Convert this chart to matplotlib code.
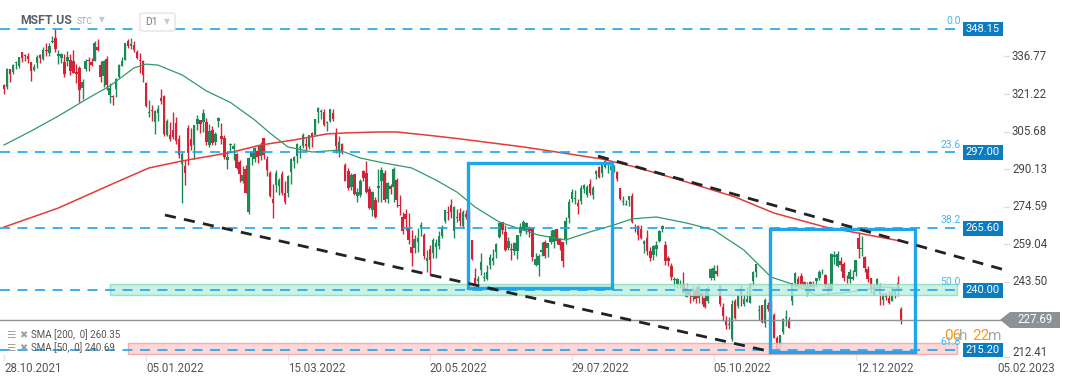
import numpy as np
import matplotlib
matplotlib.use('Agg')
import matplotlib.pyplot as plt
from matplotlib.patches import Rectangle, Polygon, FancyBboxPatch

plt.rcParams['font.family'] = ['Roboto', 'DejaVu Sans']

# ---- daily candles MSFT.US, 28.10.2021 .. 04.01.2023 (one row per month) ----
opens = [
    324.9, 324.1,
    331.4, 330.3, 333.9, 332.9, 338.5, 337.3, 337.1, 334.6, 331.3, 333.9, 337.5, 335.7, 339.5, 338.2, 342.6, 344.6, 337.1, 336.3, 334.4, 334.9, 335.3,
    335.1, 330.3, 331.9, 323.9, 331.6, 335.3, 334.4, 334.9, 340.7, 333.2, 328.6, 335.7, 320.9, 320.1, 323.3, 328.3, 332.8, 335.5, 343.1, 341.3, 341.5, 338.5,
    335.4, 334.8, 325.9, 313.2, 314.2, 309.5, 313.4, 319.7, 320.5, 304.3, 304.1, 306.3, 309.1, 302.7, 292.2, 291.5, 307.0, 302.7, 300.2, 308.9,
    310.4, 309.6, 309.5, 300.2, 306.2, 301.3, 309.9, 304.0, 303.2, 293.8, 300.0, 298.4, 296.4, 293.1, 285.0, 290.2, 272.5, 295.1, 294.3,
    297.7, 295.4, 302.9, 294.3, 288.5, 277.8, 283.4, 283.0, 287.9, 280.3, 280.4, 289.1, 293.3, 295.4, 298.9, 299.8, 300.5, 299.1, 305.2, 304.3, 313.9, 313.8, 313.9,
    309.4, 310.1, 313.3, 305.2, 296.7, 300.4, 291.8, 289.2, 282.7, 288.1, 278.9, 279.4, 289.4, 288.6, 281.7, 273.3, 277.5, 282.1, 285.2, 288.6,
    277.7, 283.0, 282.6, 285.5, 274.8, 270.1, 271.7, 265.7, 257.7, 257.4, 259.9, 266.1, 263.0, 251.9, 257.2, 255.5, 257.9, 258.1, 262.3, 268.5, 272.5,
    275.2, 264.4, 270.3, 272.1, 266.6, 271.7, 267.8, 260.6, 245.1, 243.9, 248.3, 245.0, 244.7, 250.3, 251.9, 255.6, 261.8, 268.2, 263.9, 257.6, 257.1,
    256.4, 256.2, 263.8, 265.1, 264.8, 265.7, 265.9, 250.2, 250.6, 255.7, 259.8, 257.6, 259.9, 259.8, 265.2, 261.0, 259.9, 261.2, 269.8, 277.7,
    277.8, 276.0, 276.8, 281.9, 279.2, 284.1, 279.6, 288.2, 290.9, 288.5, 291.0, 291.9, 289.7, 290.2, 288.9, 282.1, 276.4, 275.4, 277.3, 279.1, 265.9, 266.7, 265.4,
    258.9, 261.7, 256.2, 254.7, 257.0, 260.4, 265.5, 258.8, 253.5, 249.8, 244.3, 242.5, 242.1, 242.0, 237.3, 239.5, 237.1, 239.9, 236.8, 238.9, 236.7,
    235.4, 245.1, 245.0, 247.9, 241.8, 233.1, 227.6, 225.4, 219.9, 235.5, 233.3, 241.0, 234.4, 235.1, 234.7, 243.8, 247.3, 231.2, 233.8, 226.2, 233.8,
    234.6, 229.5, 220.1, 217.6, 222.6, 228.6, 227.4, 235.4, 242.9, 244.7, 245.7, 243.5, 237.8, 243.5, 241.4, 243.6, 245.1, 247.3, 246.1, 241.4, 240.6,
    253.9, 249.8, 252.0, 250.8, 244.8, 244.8, 244.7, 247.4, 261.7, 257.1, 253.7, 248.6, 244.9, 238.0, 241.7, 242.3, 236.1, 238.7, 236.9, 235.7, 238.2,
    243.1, 232.3,
]
highs = [
    325.4, 331.9,
    331.5, 333.5, 334.9, 336.5, 338.8, 337.6, 338.0, 334.6, 333.7, 337.2, 337.9, 340.7, 342.2, 342.5, 345.1, 348.0, 339.5, 338.2, 337.9, 339.0, 337.8,
    339.3, 333.5, 332.7, 327.4, 335.8, 336.5, 336.2, 343.0, 343.8, 335.0, 335.2, 336.8, 325.9, 320.9, 327.7, 333.6, 336.4, 342.5, 343.8, 344.3, 343.1, 339.4,
    338.0, 335.2, 326.1, 318.7, 316.5, 314.7, 316.6, 323.4, 320.9, 310.8, 309.8, 313.9, 311.7, 304.1, 297.1, 294.0, 308.5, 307.3, 308.5, 312.4,
    310.6, 315.1, 311.2, 308.8, 307.8, 305.6, 311.9, 309.1, 304.3, 297.8, 300.8, 300.9, 296.8, 293.9, 291.5, 291.7, 295.2, 297.6, 299.1,
    299.9, 301.5, 303.1, 295.7, 289.5, 283.9, 289.6, 286.6, 289.5, 285.4, 287.8, 294.6, 295.6, 301.0, 300.1, 305.0, 303.2, 304.2, 305.5, 310.8, 315.8, 315.0, 315.1,
    310.1, 315.1, 314.9, 307.0, 303.7, 301.1, 292.6, 290.7, 288.6, 288.3, 282.5, 286.2, 289.7, 293.3, 283.2, 281.1, 278.4, 290.0, 290.9, 289.9,
    284.9, 284.1, 290.9, 286.4, 279.3, 272.4, 273.8, 272.0, 264.8, 263.0, 265.8, 268.3, 263.6, 256.8, 258.5, 261.5, 261.3, 264.6, 267.1, 273.3, 274.8,
    277.7, 274.7, 273.5, 274.0, 273.1, 273.0, 272.7, 260.6, 249.0, 245.7, 255.3, 247.4, 250.5, 254.8, 257.2, 259.4, 267.9, 268.3, 266.9, 261.9, 259.5,
    259.8, 262.9, 267.9, 269.1, 268.1, 266.5, 265.9, 255.2, 255.1, 260.0, 260.8, 259.7, 264.9, 264.9, 265.3, 261.5, 259.9, 270.1, 277.8, 282.0,
    281.3, 277.9, 283.5, 283.8, 283.6, 285.9, 283.1, 289.8, 291.2, 291.9, 294.2, 293.0, 293.4, 291.9, 289.3, 282.5, 278.9, 277.2, 279.0, 280.3, 267.4, 267.1, 267.0,
    260.9, 264.7, 257.8, 258.8, 260.4, 265.0, 267.0, 260.4, 254.2, 251.4, 245.3, 245.0, 244.1, 247.7, 242.8, 240.2, 241.5, 241.7, 242.3, 239.9, 240.5,
    241.6, 249.0, 250.4, 250.3, 242.0, 234.6, 229.1, 229.0, 236.0, 236.2, 238.2, 242.0, 238.6, 241.3, 243.0, 248.0, 251.0, 233.7, 233.9, 236.6, 234.9,
    235.7, 230.6, 221.0, 221.6, 228.6, 231.6, 228.7, 243.0, 247.6, 245.9, 247.0, 243.8, 243.3, 243.7, 243.6, 245.1, 248.3, 248.7, 246.7, 242.8, 255.3,
    256.1, 256.1, 253.8, 251.8, 246.2, 248.7, 248.3, 252.5, 263.9, 262.6, 254.2, 249.8, 245.2, 242.6, 245.2, 242.8, 238.9, 238.9, 239.7, 241.9, 239.9,
    245.8, 232.9,
]
lows = [
    321.4, 323.5,
    326.4, 329.4, 331.5, 332.2, 334.4, 334.8, 333.9, 326.5, 330.8, 332.2, 334.0, 335.5, 337.1, 337.0, 342.2, 338.6, 333.5, 333.9, 328.1, 332.7, 328.9,
    329.9, 325.8, 318.0, 319.2, 330.8, 330.6, 332.7, 334.8, 339.1, 326.4, 324.1, 323.0, 317.5, 316.6, 319.8, 328.0, 332.7, 335.4, 340.3, 339.7, 338.8, 335.9,
    329.8, 326.1, 315.9, 311.5, 310.1, 304.7, 309.9, 317.1, 304.0, 303.8, 301.7, 302.7, 300.4, 294.8, 276.1, 283.5, 292.0, 297.9, 294.4, 306.4,
    305.1, 305.6, 299.9, 299.2, 299.9, 299.9, 307.4, 300.7, 294.2, 290.0, 297.0, 293.7, 290.0, 284.9, 284.5, 280.1, 271.5, 291.7, 293.0,
    292.5, 293.7, 294.1, 287.2, 278.5, 270.0, 280.8, 279.5, 279.4, 275.8, 278.7, 283.9, 290.4, 292.7, 294.9, 298.8, 297.7, 298.3, 299.3, 304.3, 309.1, 310.8, 307.9,
    305.8, 309.7, 309.9, 296.7, 295.1, 296.2, 285.2, 281.4, 281.3, 279.3, 276.3, 278.4, 285.4, 280.1, 273.4, 270.8, 270.0, 276.6, 276.7, 276.5,
    276.2, 280.0, 276.7, 274.3, 271.3, 263.3, 265.1, 258.9, 250.0, 255.4, 255.8, 262.5, 252.8, 247.3, 246.4, 253.4, 253.5, 257.1, 261.4, 267.6, 268.9,
    270.0, 261.6, 268.4, 266.5, 265.9, 269.6, 264.6, 252.5, 241.5, 241.5, 246.4, 243.6, 244.0, 248.9, 250.4, 253.3, 261.7, 263.3, 256.3, 256.6, 252.6,
    254.6, 252.7, 262.4, 265.0, 263.3, 262.2, 252.0, 250.0, 245.9, 254.2, 253.1, 253.6, 258.9, 257.3, 259.1, 256.8, 249.6, 258.9, 267.9, 276.6,
    275.8, 271.4, 275.6, 280.2, 278.7, 279.3, 277.6, 286.0, 286.5, 286.9, 290.4, 288.6, 289.4, 289.1, 285.2, 277.2, 275.4, 275.1, 274.7, 267.9, 263.9, 260.7, 261.3,
    255.4, 254.5, 251.9, 252.3, 254.2, 259.8, 263.9, 250.5, 249.9, 244.0, 241.1, 240.8, 241.0, 238.9, 237.0, 234.7, 235.7, 234.5, 234.7, 234.4, 232.7,
    234.7, 244.2, 244.0, 246.0, 233.4, 227.3, 224.1, 224.1, 219.1, 228.0, 232.6, 233.6, 233.4, 235.0, 234.5, 241.7, 245.4, 227.5, 226.3, 224.7, 231.4,
    226.8, 220.0, 213.4, 213.4, 222.0, 225.0, 224.3, 233.8, 240.7, 240.4, 240.3, 240.4, 237.7, 239.4, 240.4, 241.4, 244.3, 246.7, 240.8, 238.2, 240.6,
    250.9, 249.7, 248.1, 243.8, 243.0, 243.1, 244.2, 246.0, 253.5, 254.3, 247.3, 243.4, 238.7, 238.0, 240.6, 233.9, 233.9, 235.8, 234.2, 235.6, 236.7,
    237.4, 225.8,
]
closes = [
    323.4, 331.6,
    329.4, 333.1, 334.0, 336.4, 336.1, 337.0, 335.9, 330.8, 332.4, 336.7, 336.1, 339.5, 339.1, 341.3, 343.1, 339.8, 337.7, 337.9, 329.7, 336.6, 330.6,
    330.1, 329.5, 323.0, 326.2, 334.9, 335.0, 333.1, 342.5, 339.4, 328.3, 334.7, 324.9, 323.8, 319.9, 327.3, 333.2, 334.7, 342.5, 341.3, 342.0, 339.3, 336.3,
    334.8, 329.0, 316.4, 313.9, 314.0, 314.3, 315.0, 318.3, 304.8, 310.2, 302.7, 303.3, 301.6, 296.0, 296.4, 288.5, 296.7, 299.8, 308.3, 311.0,
    308.8, 313.5, 301.3, 305.9, 301.0, 304.6, 311.2, 302.4, 295.0, 295.0, 300.5, 299.5, 290.7, 287.9, 287.7, 280.3, 294.6, 297.3, 298.8,
    295.0, 300.2, 295.9, 289.9, 278.9, 275.9, 288.5, 285.6, 280.1, 276.4, 287.2, 294.4, 295.2, 300.4, 299.2, 304.1, 299.5, 304.1, 303.7, 310.7, 315.4, 313.9, 308.3,
    309.4, 315.0, 310.9, 299.5, 301.4, 297.0, 285.3, 282.1, 287.6, 279.8, 280.5, 285.3, 286.4, 280.8, 274.0, 280.7, 270.2, 283.2, 289.6, 277.5,
    284.5, 281.8, 290.0, 277.4, 274.7, 264.6, 269.5, 260.6, 255.4, 261.1, 261.5, 266.8, 254.1, 253.1, 252.6, 260.7, 259.6, 262.5, 265.9, 273.2, 271.9,
    272.4, 274.6, 270.0, 268.8, 272.5, 270.4, 264.8, 253.0, 242.3, 244.5, 251.8, 245.0, 247.7, 253.7, 253.1, 258.9, 267.7, 264.9, 256.5, 260.3, 256.8,
    259.6, 262.9, 266.2, 268.4, 267.7, 264.5, 253.7, 252.7, 254.1, 256.7, 254.3, 259.5, 262.3, 264.8, 260.4, 258.8, 251.9, 268.7, 276.4, 280.7,
    278.0, 274.8, 282.5, 283.7, 282.9, 280.3, 282.3, 289.2, 287.0, 291.9, 293.5, 292.7, 291.3, 290.2, 286.2, 277.8, 276.4, 275.8, 278.9, 268.1, 265.2, 263.0, 261.5,
    260.4, 256.1, 253.3, 258.1, 258.5, 264.5, 266.7, 252.0, 252.2, 245.4, 244.7, 244.5, 242.5, 239.0, 241.0, 237.9, 237.5, 236.4, 241.1, 237.5, 232.9,
    240.7, 248.9, 249.2, 246.8, 234.2, 229.3, 225.4, 225.8, 234.2, 228.6, 237.5, 238.5, 236.5, 236.2, 242.1, 247.3, 250.7, 231.3, 226.8, 235.9, 232.1,
    228.2, 220.1, 214.3, 221.4, 227.9, 228.9, 224.5, 243.0, 247.1, 241.6, 242.0, 241.7, 241.7, 241.2, 242.1, 245.0, 247.6, 247.5, 241.8, 240.3, 255.1,
    254.7, 255.0, 250.2, 245.1, 244.4, 247.4, 245.4, 252.5, 256.9, 257.2, 249.0, 244.7, 240.5, 241.8, 244.4, 238.2, 238.7, 237.0, 234.5, 241.0, 239.8,
    239.6, 227.7,
]

# moving averages (candle index, value)
sma50_idx = [0, 9, 18, 28, 35, 43, 47, 51, 59, 67, 75, 83, 88, 94, 102, 111, 118, 126, 135, 143, 150,
             156, 164, 177, 186, 194, 202, 208, 216, 226, 235, 245, 254, 262, 269, 280, 291, 297]
sma50 = [300.1, 305.9, 312.1, 319.6, 324.5, 332.0, 333.6, 333.2, 329.1, 322.5, 317.7, 310.5, 305.1, 299.3,
         297.2, 298.0, 294.7, 292.6, 290.6, 285.6, 280.6, 274.4, 268.2, 262.8, 260.8, 264.1, 267.0, 269.5,
         270.3, 267.8, 264.9, 256.6, 245.4, 242.1, 237.9, 239.2, 241.3, 240.7]
sma200_idx = [0, 18, 35, 48, 59, 75, 85, 96, 107, 113, 124, 130, 140, 150, 172, 183, 198, 209, 226, 242,
              255, 272, 283, 297]
sma200 = [266.1, 274.0, 283.5, 290.6, 293.5, 297.0, 300.1, 302.2, 304.7, 305.1, 305.5, 305.5, 304.2, 302.8,
          299.3, 297.2, 294.3, 291.0, 284.8, 278.6, 271.9, 266.1, 263.6, 260.3]

fib_levels = [348.15, 297.00, 265.60, 240.00, 215.20]
fib_names = ['0.0', '23.6', '38.2', '50.0', '61.8']
price_ticks = [212.41, 243.50, 259.04, 274.59, 290.13, 305.68, 321.22, 336.77]
date_labels = ['28.10.2021', '05.01.2022', '15.03.2022', '20.05.2022',
               '29.07.2022', '05.10.2022', '12.12.2022', '05.02.2023']
last_price = 227.69

# analyst drawings (candle index / price)
zone_green = (238.0, 242.5)
zone_red = (213.5, 218.1)
box1 = (153.6, 201.3, 240.9, 292.6)
box2 = (253.6, 301.7, 214.5, 265.4)
trend_upper = [(196.7, 295.5), (331.5, 248.3)]
trend_lower = [(53.3, 271.1), (253.6, 214.6)]

W, H = 1072, 382
n = len(closes)
assert len(opens) == len(highs) == len(lows) == n

# pixel <-> data mapping of the screen
def px2i(px):
    return (px - 4) / 3.02

def py2p(py):
    return 215.2 + (350 - py) / 2.4145

def fx(px):
    return px / W

def fy(py):
    return 1 - py / H

fig = plt.figure(figsize=(W / 100, H / 100), dpi=100)
ax = fig.add_axes([0, 0, 1, 1])
ax.set_xlim(px2i(0), px2i(W))
ax.set_ylim(py2p(H), py2p(0))
ax.axis('off')

GREEN = '#1b8a58'
RED = '#d22436'
BLUE = '#19a6ef'
LABEL_BLUE = '#0c7cc0'

# candles
o = np.array(opens); h = np.array(highs); l = np.array(lows); c = np.array(closes)
x = np.arange(n)
cols = np.where(c >= o, GREEN, RED)
ax.vlines(x, l, h, colors=cols, lw=1.0, zorder=2)
body = np.maximum(np.abs(c - o), 0.4)
ax.bar(x, body, bottom=np.minimum(o, c), width=0.82, color=cols, lw=0, zorder=2)

# SMA lines
ax.plot(sma200_idx, sma200, color='#e23b3b', lw=1.1, zorder=3)
ax.plot(sma50_idx, sma50, color='#2f9a6a', lw=0.9, zorder=3)

xr = px2i(957)
# zones
ax.add_patch(Rectangle((px2i(110), zone_green[0]), xr - px2i(110), zone_green[1] - zone_green[0],
                       facecolor='#bdeedc', edgecolor='#86dcb9', lw=1, alpha=0.8, zorder=4))
ax.add_patch(Rectangle((px2i(128), zone_red[0]), xr - px2i(128), zone_red[1] - zone_red[0],
                       facecolor='#fcd2d2', edgecolor='#f4a3a3', lw=1, alpha=0.85, zorder=4))

# current price line
ax.plot([px2i(0), px2i(1000)], [last_price, last_price], color='#8c9396', lw=1, zorder=3)

# fibonacci levels
for lv, nm in zip(fib_levels, fib_names):
    ax.plot([px2i(0), xr], [lv, lv], color=BLUE, lw=1.2, ls=(0, (6, 4.5)), zorder=5)
    ax.text(px2i(961), lv + 1.2, nm, color='#45b6f2', fontsize=7.5, ha='right', va='bottom', zorder=6)
    ax.text(px2i(983), lv, f'{lv:.2f}', color='white', fontsize=8, ha='center', va='center', zorder=7,
            bbox=dict(boxstyle='square,pad=0.22', fc=LABEL_BLUE, ec='none'))

# blue boxes
for x0, x1, y0, y1 in (box1, box2):
    ax.add_patch(Rectangle((x0, y0), x1 - x0, y1 - y0, fill=False, ec='#1ea6ec', lw=2.4, zorder=6))

# trend lines
for seg in (trend_upper, trend_lower):
    (xa, ya), (xb, yb) = seg
    ax.plot([xa, xb], [ya, yb], color='#222222', lw=2.0, ls=(0, (4, 3)), zorder=6)

# price axis (lowest label is kept inside the pane, above the date row)
for t in price_ticks:
    ax.plot([px2i(1004), px2i(1009)], [t, t], color='#dddddd', lw=1, zorder=1)
    ax.text(px2i(1012), max(t, py2p(352)), f'{t:.2f}', color='#444444', fontsize=8.3,
            ha='left', va='center')

# last price tag
ax.add_patch(Polygon([(px2i(1000), last_price), (px2i(1010), py2p(312)), (px2i(1060), py2p(312)),
                      (px2i(1060), py2p(328)), (px2i(1010), py2p(328))],
                     closed=True, fc='#8a9295', ec='none', zorder=7))
ax.text(px2i(1035), last_price, f'{last_price:.2f}', color='white', fontsize=8.3, ha='center', va='center', zorder=8)

# countdown
fig.text(fx(944), fy(336), '06', color='#f39a1c', fontsize=11, va='center')
fig.text(fx(959), fy(336), 'h', color='#a8a8a8', fontsize=11, va='center')
fig.text(fx(972), fy(336), '22', color='#f39a1c', fontsize=11, va='center')
fig.text(fx(988), fy(336), 'm', color='#a8a8a8', fontsize=11, va='center')

# date axis
for k, lab in enumerate(date_labels):
    xi = k * 47
    ax.plot([xi, xi], [py2p(355), py2p(360)], color='#e6e6e6', lw=1, zorder=1)
    ax.text(xi, py2p(368), lab, color='#555555', fontsize=8.3, ha='left', va='center')

# header
fig.text(fx(20), fy(21), 'MSFT.US', color='#5b6064', fontsize=8.8, fontweight='bold', va='center')
fig.text(fx(77), fy(22), 'STC', color='#a5a9ad', fontsize=6.3, va='center')
fig.text(fx(99), fy(20), '▼', color='#c9c9c9', fontsize=5.5, va='center', family='DejaVu Sans')
fig.patches.append(FancyBboxPatch((fx(140), fy(31)), fx(35), 18 / H, boxstyle='round,pad=0,rounding_size=0.004',
                                  transform=fig.transFigure, fc='white', ec='#dedede', lw=0.8))
fig.text(fx(145), fy(22), 'D1', color='#7a7a7a', fontsize=7.5, va='center')
fig.text(fx(164), fy(22), '▼', color='#c9c9c9', fontsize=5.5, va='center', family='DejaVu Sans')

# indicator legend
for yy, lab in ((335, 'SMA [200,  0] 260.35'), (348, 'SMA [50,  0] 240.69')):
    fig.text(fx(6), fy(yy), '☰', color='#a0a0a0', fontsize=7.5, va='center', family='DejaVu Sans')
    fig.text(fx(19), fy(yy), '✖', color='#a0a0a0', fontsize=7, va='center', family='DejaVu Sans')
    fig.text(fx(31), fy(yy), lab, color='#555555', fontsize=7, va='center')

fig.savefig('out.png', dpi=100)
